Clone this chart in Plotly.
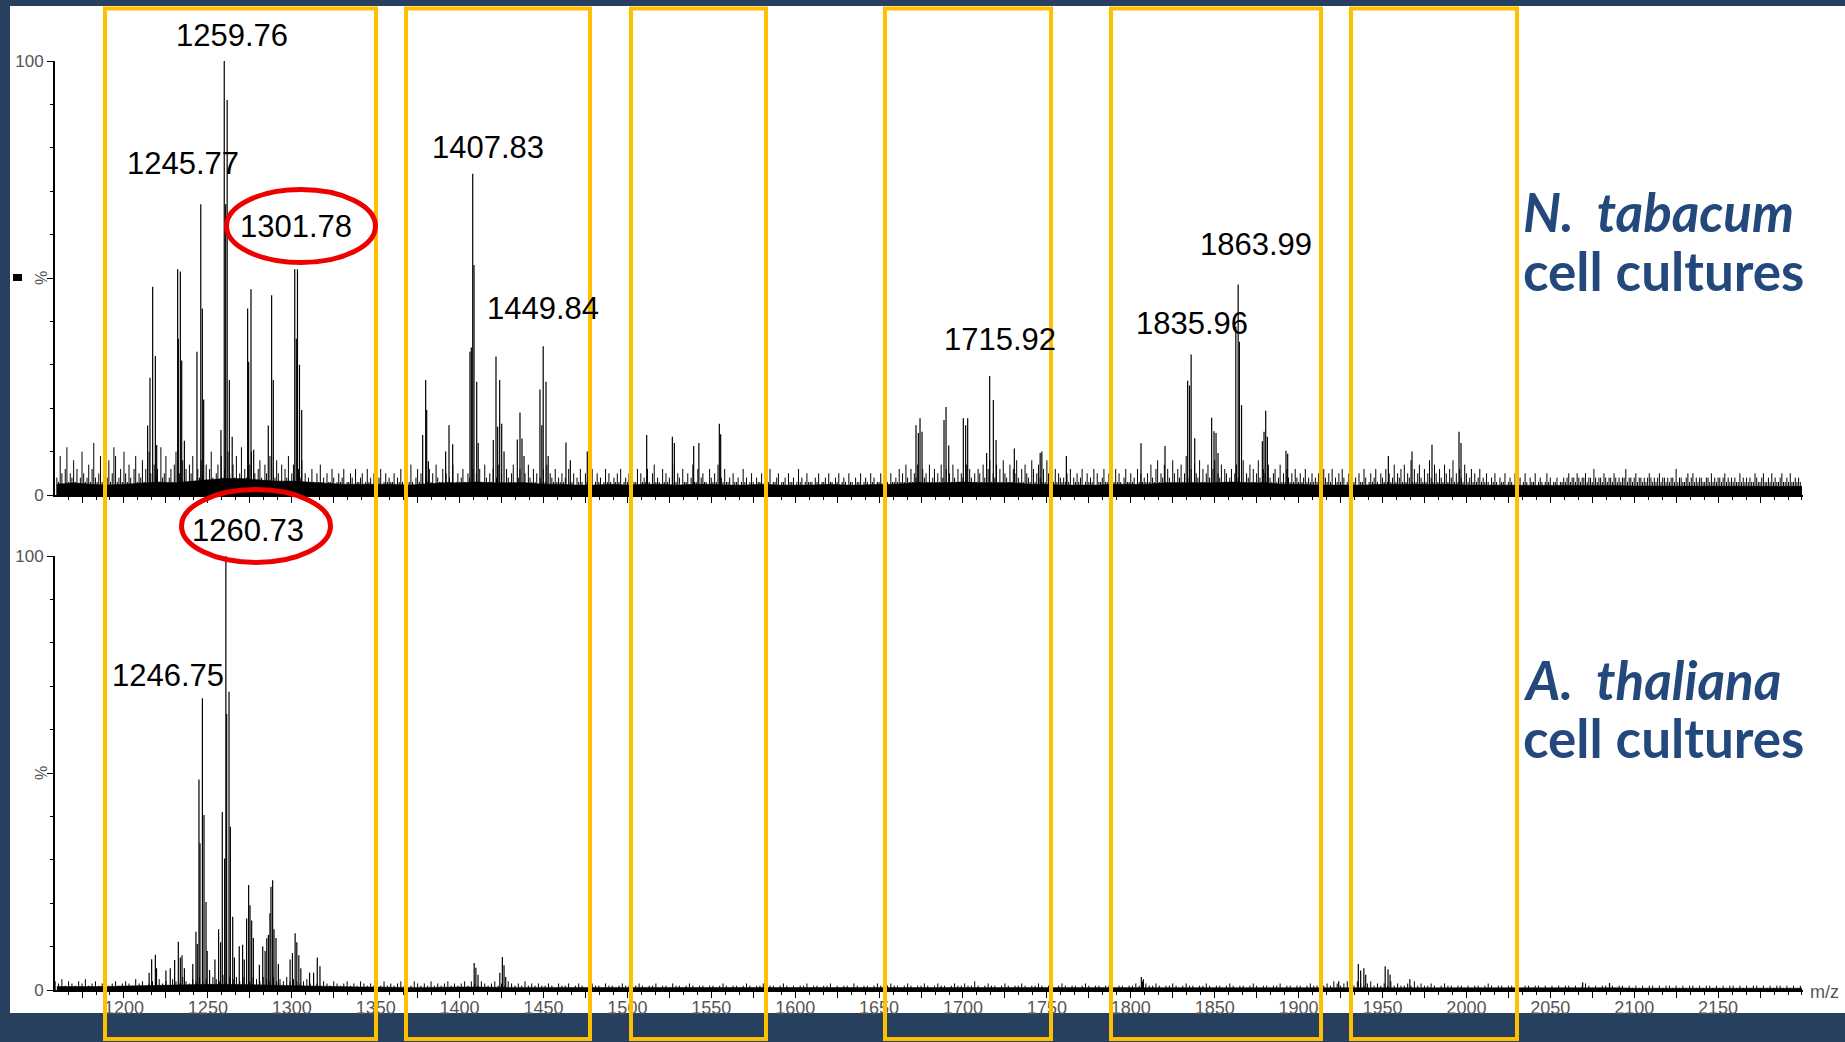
import plotly.graph_objects as go

W, H = 1845, 1042
NAVY = "#27405f"
YELLOW = "#FFC000"
RED = "#EE0000"
BLUE = "#23497c"
GRAY = "#555555"
TXT = "Liberation Sans, Arial, sans-serif"

# ---------------- data ----------------
tick_mz = list(range(1175, 2200, 25))
tick_text = [str(v) if v % 50 == 0 else "" for v in tick_mz]

# N. tabacum : main peaks (m/z, relative intensity %)
tab_peak_mz = [
    1214.1, 1215.5, 1217.1, 1218.7, 1219.5,
    1232.0, 1232.4, 1233.6, 1234.4, 1236.0,
    1243.5, 1245.77, 1246.7, 1247.5,
    1257.8, 1259.76, 1260.6, 1261.5, 1262.8, 1264.5,
    1273.7, 1274.3, 1275.7, 1277.3,
    1286.0, 1288.0, 1289.0,
    1301.78, 1302.7, 1303.4, 1304.6, 1305.9,
    1378.0, 1379.8, 1380.4, 1381.4,
    1391.7, 1393.7, 1395.9,
    1406.2, 1407.0, 1407.83, 1408.6, 1410.2, 1411.1,
    1420.1, 1421.7, 1422.7, 1423.9, 1425.1, 1426.5,
    1434.4, 1436.0, 1437.2, 1438.4,
    1447.9, 1449.0, 1449.84, 1451.5, 1452.8,
    1463.4, 1466.0, 1476.1,
    1511.5, 1526.8, 1528.0, 1539.5, 1542.6, 1554.8, 1555.6,
    1672.0, 1673.4, 1674.4, 1675.6,
    1688.7, 1689.9, 1691.5,
    1700.2, 1701.6, 1702.8,
    1714.1, 1715.92, 1718.1, 1719.7,
    1730.6, 1746.0, 1747.0, 1761.6,
    1806.1, 1820.4,
    1833.9, 1835.0, 1835.96, 1838.1,
    1848.2, 1849.6, 1850.8, 1852.0,
    1862.6, 1863.99, 1864.7, 1866.0,
    1878.4, 1879.4, 1880.4, 1881.4, 1892.5, 1893.5,
    1953.5, 1967.6, 1979.5, 1995.6, 1996.8,
]
tab_peak_int = [
    16, 27, 48, 32, 11.5,
    52, 36, 51.5, 31, 12.5,
    33, 67, 43, 22,
    15, 100, 67, 91, 26.5, 13.4,
    43, 30.7, 47.4, 10.4,
    16, 46, 26.5,
    52, 36, 52, 30, 19.6,
    13.8, 26.5, 19.6, 7.8,
    10, 16.1, 11.7,
    33, 34, 74, 53, 26.1, 12,
    12.7, 31.9, 15.7, 26.5, 16.4, 10,
    12.8, 19, 13, 9,
    24.3, 16.1, 34.3, 26.1, 9,
    12.1, 8, 10,
    13.8, 13.4, 12, 11.3, 12, 16.4, 14,
    16.1, 14.3, 17.7, 14.6,
    17.3, 20.3, 11.4,
    17.7, 16.1, 17.7,
    9.7, 27.4, 21.9, 12.7,
    10.7, 9.7, 10, 9,
    11.9, 11.3,
    26.3, 25.2, 32.4, 13.1,
    17.8, 14.7, 14.3, 9.7,
    38.8, 48.5, 35.3, 20.7,
    12.4, 14.6, 19.4, 13.4, 10.2, 9.5,
    9, 10, 11.6, 14.6, 12,
]

# A. thaliana : main peaks
tha_peak_mz = [
    1215.0, 1216.5, 1218.7, 1219.4, 1225.0, 1227.6,
    1230.2, 1232.4, 1233.6, 1234.6, 1236.0, 1241.0,
    1242.9, 1243.7, 1244.7, 1245.3, 1246.75, 1247.7, 1248.9, 1249.6, 1251.0,
    1254.2, 1256.4, 1257.6, 1258.6, 1260.0, 1260.73, 1261.2, 1262.6, 1263.4, 1264.8, 1265.8,
    1268.7, 1270.7, 1271.7, 1273.1, 1274.3, 1275.1, 1276.1, 1277.1, 1280.7,
    1282.7, 1284.1, 1285.1, 1286.1, 1287.0, 1287.6, 1288.6, 1289.4, 1290.6, 1292.0,
    1299.0, 1300.4, 1302.0, 1303.0, 1304.2, 1305.4,
    1310.6, 1313.0, 1315.2, 1316.8,
    1408.7, 1409.7, 1411.0, 1424.0, 1425.5, 1426.5, 1427.5,
    1806.3, 1807.5, 1923.9, 1935.6, 1937.0, 1938.9, 1940.0,
    1951.6, 1953.3, 1954.5, 1966.3, 2069.3, 2085.3,
]
tha_peak_int = [
    4, 7.1, 8.1, 5, 4.5, 5,
    6.9, 11.1, 7.5, 8, 5, 6,
    13.4, 10.6, 48.5, 33.8, 67.2, 40.3, 20.3, 9, 4.6,
    7, 14, 11, 41, 30.3, 100, 63.6, 68.7, 37.6, 16.9, 7.5,
    10.1, 10.4, 7, 16.5, 24.2, 19.5, 16, 12, 5.8,
    10, 9, 11.9, 12.7, 17.7, 23.8, 25.3, 14, 12, 6,
    7, 8.5, 13.1, 11, 8, 5,
    4, 4, 7.5, 5.5,
    6.2, 5.1, 3.5, 4, 7.6, 5.7, 3,
    3, 2.5, 2, 6, 4.5, 5, 3.5,
    5.5, 4.8, 3.5, 2.5, 1.8, 1.6,
]

# N. tabacum noise sticks, one every 1 m/z starting at 1160
tab_noise_start, tab_noise_step = 1160, 1
tab_noise = [
    4, 3, 9, 5, 2, 6, 11, 3, 5, 4, 8, 3, 6, 2, 4, 10, 5, 3, 4, 7, 3, 6, 12, 4, 3, 5, 9, 3, 7, 2, 4, 8, 3, 5, 11, 9, 3, 4, 6, 3, 10, 5, 3, 7, 4, 2, 6, 9, 3, 5,
    4, 8, 3, 6, 3, 10, 5, 2, 7, 4, 6, 3, 11, 4, 5, 9, 2, 4, 6, 3, 7, 10, 3, 5, 4, 8, 3, 6, 2, 7, 5, 9, 3, 3, 6, 4, 8, 5, 2, 7, 3, 6, 10, 4, 3, 5, 7, 3, 9, 4,
    6, 3, 10, 5, 3, 7, 4, 9, 2, 5, 11, 3, 6, 4, 3, 7, 10, 3, 5, 2, 6, 8, 4, 3, 7, 5, 3, 9, 6, 3, 4, 8, 5, 2, 7, 3, 6, 4, 9, 3, 5, 7, 3, 2, 6, 4, 8, 3, 5, 3,
    4, 3, 6, 3, 2, 5, 3, 7, 3, 4, 2, 5, 3, 3, 6, 4, 2, 3, 5, 3, 4, 6, 2, 3, 3, 5, 4, 2, 6, 3, 3, 4, 5, 2, 3, 6, 3, 4, 2, 5, 3, 3, 4, 6, 2, 3, 5, 3, 4, 3,
    3, 5, 2, 4, 3, 6, 3, 2, 5, 4, 3, 7, 3, 2, 4, 6, 3, 5, 3, 2, 4, 3, 6, 3, 5, 2, 7, 4, 3, 3, 6, 2, 5, 3, 4, 3, 7, 2, 3, 5, 3, 4, 6, 3, 2, 5, 4, 3, 6, 3,
    5, 3, 6, 3, 2, 7, 4, 3, 5, 3, 6, 2, 4, 7, 3, 5, 3, 2, 6, 4, 3, 5, 7, 3, 2, 4, 6, 3, 3, 5, 2, 7, 4, 3, 6, 3, 5, 2, 4, 3, 6, 3, 7, 2, 5, 4, 3, 6, 3, 4,
    3, 5, 3, 4, 2, 6, 3, 3, 5, 2, 4, 3, 6, 3, 2, 5, 3, 4, 3, 6, 2, 3, 5, 3, 4, 2, 3, 6, 3, 5, 3, 2, 4, 3, 5, 3, 6, 2, 3, 4, 3, 5, 2, 4, 3, 3, 6, 2, 5, 3,
    4, 3, 6, 3, 2, 5, 7, 3, 4, 3, 2, 6, 3, 5, 3, 4, 2, 7, 3, 3, 5, 4, 2, 6, 3, 3, 5, 2, 4, 7, 3, 3, 6, 2, 4, 5, 3, 3, 2, 6, 4, 3, 5, 3, 7, 2, 4, 3, 6, 3,
    3, 4, 2, 5, 3, 3, 4, 2, 3, 6, 3, 4, 2, 3, 5, 3, 2, 4, 3, 3, 5, 2, 3, 4, 3, 6, 2, 3, 3, 4, 5, 2, 3, 3, 4, 2, 5, 3, 3, 4, 2, 3, 6, 3, 4, 2, 3, 5, 3, 3,
    3, 2, 4, 3, 5, 2, 3, 3, 4, 2, 5, 3, 3, 2, 4, 3, 5, 2, 3, 4, 3, 2, 5, 3, 3, 2, 4, 3, 3, 5, 2, 3, 4, 3, 2, 5, 3, 4, 2, 3, 3, 5, 2, 3, 4, 3, 2, 5, 3, 3,
    4, 3, 6, 3, 5, 3, 7, 4, 3, 6, 3, 5, 4, 7, 3, 3, 6, 4, 5, 3, 7, 3, 4, 6, 3, 5, 3, 7, 4, 3, 6, 3, 5, 3, 7, 4, 3, 6, 3, 5, 4, 3, 7, 3, 6, 4, 3, 5, 3, 6,
    5, 3, 7, 4, 3, 6, 8, 3, 5, 4, 7, 3, 6, 3, 8, 5, 4, 3, 7, 3, 6, 5, 8, 4, 3, 6, 3, 7, 5, 4, 3, 8, 6, 3, 5, 7, 4, 3, 6, 3, 8, 5, 4, 7, 3, 6, 3, 5, 4, 3,
    4, 3, 5, 3, 6, 2, 4, 3, 5, 3, 4, 6, 2, 3, 5, 3, 4, 3, 6, 2, 5, 3, 3, 4, 6, 3, 3, 5, 2, 4, 3, 6, 3, 5, 3, 2, 4, 6, 3, 3, 5, 3, 4, 2, 6, 3, 5, 3, 4, 3,
    5, 3, 7, 4, 3, 6, 8, 3, 5, 4, 7, 3, 6, 4, 3, 8, 5, 3, 6, 4, 7, 3, 5, 9, 4, 3, 6, 3, 7, 5, 4, 8, 3, 6, 3, 5, 7, 4, 3, 6, 8, 3, 5, 4, 7, 3, 6, 5, 3, 4,
    6, 3, 5, 7, 4, 3, 6, 8, 3, 5, 4, 7, 3, 6, 3, 5, 8, 4, 3, 6, 5, 3, 7, 4, 3, 5, 6, 3, 4, 7, 3, 5, 3, 6, 4, 3, 5, 3, 6, 4, 3, 5, 3, 4, 6, 3, 4, 3, 5, 3,
    4, 3, 5, 3, 2, 6, 4, 3, 5, 3, 6, 2, 4, 3, 5, 3, 6, 4, 2, 3, 5, 3, 6, 3, 4, 2, 5, 3, 3, 6, 4, 2, 3, 5, 3, 4, 6, 3, 2, 5, 4, 3, 6, 3, 5, 3, 4, 7, 3, 5,
    4, 6, 3, 7, 3, 5, 4, 8, 3, 6, 3, 5, 7, 4, 3, 6, 3, 5, 8, 4, 3, 7, 5, 3, 6, 4, 3, 7, 5, 3, 6, 4, 8, 3, 5, 3, 6, 4, 3, 7, 5, 3, 4, 6, 3, 5, 3, 4, 6, 3,
    4, 3, 5, 3, 2, 4, 3, 5, 3, 2, 4, 3, 3, 5, 2, 3, 4, 3, 2, 5, 3, 3, 4, 2, 3, 5, 3, 2, 4, 3, 3, 5, 2, 3, 4, 3, 2, 3, 5, 3, 4, 2, 3, 3, 4, 2, 3, 3, 4, 3,
    4, 5, 3, 4, 4, 3, 5, 4, 3, 4, 4, 5, 3, 4, 4, 3, 6, 4, 3, 4, 4, 3, 5, 4, 3, 4, 4, 3, 5, 4, 3, 4, 3, 4, 4, 6, 3, 4, 4, 3, 4, 5, 3, 4, 4, 3, 4, 3, 4, 5,
    4, 3, 4, 3, 4, 5, 3, 4, 4, 3, 4, 3, 4, 4, 3, 6, 3, 4, 4, 3, 3, 4, 5, 3, 4, 5, 3, 4, 3, 4, 4, 3, 3, 4, 4, 3, 5, 3, 4, 3, 4, 4, 3, 4, 5, 3, 4, 3, 4, 3,
    4, 3, 3, 5, 3, 4, 3, 4, 3, 4, 3, 3, 5, 4, 3, 3, 4, 5, 3, 3, 4, 3, 5, 3, 4, 3, 3, 4, 5, 3, 3, 4, 3, 5, 3, 3, 4, 3, 4, 3,
]

# A. thaliana noise sticks, one every 2 m/z starting at 1159
tha_noise_start, tha_noise_step = 1159, 2
tha_noise = [
    2, 1.5, 2.5, 1, 2, 1.5, 1, 2, 1.5, 2.5, 1, 1.5, 2, 1, 1.5, 2, 1, 1.5, 2, 1, 1.5,
    2, 1.5, 1, 2.5, 1.5, 2, 1, 1.5, 2, 1, 2.5, 1.5, 2, 1, 2.5, 2, 1.5, 3, 2, 1.5, 2.5, 2, 3, 2, 2.5,
    2, 3, 2.5, 2, 3.5, 2, 3, 2.5, 3, 2, 3, 2.5, 2, 3, 2.5, 2, 3, 2.5, 2, 3, 2, 2.5, 2, 3, 2,
    2.5, 2, 1.5, 2, 2.5, 1.5, 2, 1.5, 1, 2, 1.5, 1, 2, 1.5, 1, 1.5, 2, 1, 1.5, 1, 2, 1.5, 1, 1.5, 1,
    1.5, 1, 2, 1, 1.5, 1, 1.5, 2, 1, 1.5, 1, 2, 1.5, 1, 1.5, 1, 2, 1, 1.5, 1, 1.5, 2, 1, 1.5, 1,
    1.5, 2, 1, 2, 1.5, 1, 2, 1.5, 1, 1.5, 2, 1, 1.5, 1, 2, 1.5, 1, 1.5, 1, 2, 1, 1.5, 1, 1.5, 1,
    1, 1.5, 1, 0.5, 1.5, 1, 1, 1.5, 0.5, 1, 1.5, 1, 0.5, 1, 1.5, 1, 1, 0.5, 1.5, 1, 1, 0.5, 1, 1.5, 1,
    1, 0.5, 1, 1.5, 1, 0.5, 1, 1, 1.5, 0.5, 1, 1, 0.5, 1.5, 1, 1, 0.5, 1, 1.5, 1, 0.5, 1, 1, 0.5, 1,
    1, 0.5, 1, 1.5, 1, 0.5, 1, 1, 0.5, 1, 1.5, 1, 0.5, 1, 1, 1.5, 0.5, 1, 1, 0.5, 1, 1.5, 1, 0.5, 1,
    0.5, 1, 1, 1.5, 0.5, 1, 1, 0.5, 1, 1, 1.5, 0.5, 1, 0.5, 1, 1, 0.5, 1.5, 1, 0.5, 1, 1, 0.5, 1, 1.5,
    1, 0.5, 1, 1.5, 1, 1, 0.5, 1, 1.5, 1, 0.5, 1, 1, 1.5, 1, 0.5, 1, 1.5, 1, 1, 0.5, 1, 1.5, 1, 1,
    1.5, 1, 1, 2, 1, 0.5, 1, 1.5, 1, 1, 0.5, 1, 1.5, 1, 0.5, 1, 1, 1.5, 1, 0.5, 1, 1, 1.5, 1, 0.5,
    1, 1, 0.5, 1, 1.5, 1, 0.5, 1, 1, 0.5, 1, 1.5, 1, 0.5, 1, 1, 0.5, 1, 1, 1.5, 0.5, 1, 1, 0.5, 1,
    1, 1.5, 1, 2, 1.5, 1, 1, 1.5, 1, 0.5, 1, 1, 1.5, 1, 0.5, 1, 1.5, 1, 1, 0.5, 1, 1, 1.5, 1, 0.5,
    1, 1, 0.5, 1, 1.5, 1, 0.5, 1, 1, 0.5, 1, 1.5, 1, 0.5, 1, 1, 0.5, 1, 1, 1.5, 0.5, 1, 1, 0.5, 1,
    1, 0.5, 1, 1.5, 1, 1, 0.5, 1, 1.5, 1, 2, 1.5, 1, 1.5, 2, 1.5, 1, 2, 1.5, 1, 1.5, 2, 1, 1.5, 1,
    1.5, 1, 2, 1, 1.5, 1, 1, 1.5, 1, 2, 1, 1.5, 1, 1, 1.5, 1, 0.5, 1, 1.5, 1, 1, 0.5, 1, 1, 0.5,
    1, 0.5, 1, 1, 0.5, 1, 1.5, 1, 0.5, 1, 1, 0.5, 1, 1, 0.5, 1, 0.5, 1, 1, 0.5, 1, 1, 0.5, 1, 0.5,
    1, 0.5, 1, 0.5, 1, 1, 0.5, 1, 0.5, 1, 1.5, 1, 0.5, 1, 0.5, 1, 1, 0.5, 1, 0.5, 1, 1, 0.5, 1, 0.5,
    1, 0.5, 1, 0.5, 1, 1, 0.5, 1, 0.5, 1, 1, 0.5, 1, 0.5, 1, 0.5, 1, 1, 0.5, 1, 0.5, 1, 1, 0.5, 1,
    0.5, 1, 0.5, 1, 1, 0.5, 1, 0.5, 1, 0.5, 1, 1, 0.5, 1, 0.5, 1, 0.5, 1, 1, 0.5, 1, 0.5, 1, 0.5, 1,
]

# dense baseline level, one value every 10 m/z starting at 1160
floor_start, floor_step = 1160, 10
tab_floor = [
    2.5, 2.8, 2.5, 2.3, 2.5, 2.8, 3, 2.8, 3.2, 3.5,
    3.8, 3.8, 3.5, 3.2, 3.2, 3, 2.8, 2.5, 2.5, 2.5,
    2.5, 2.3, 2.5, 2.8, 2.8, 3, 2.8, 2.8, 2.8, 2.5,
    2.5, 2.3, 2.3, 2.5, 2.3, 2.5, 2.5, 2.3, 2.5, 2.5,
    2.3, 2.3, 2.5, 2.3, 2.3, 2.3, 2.5, 2.3, 2.3, 2.5,
    2.5, 2.8, 2.8, 2.8, 3, 2.8, 2.8, 2.8, 2.5, 2.5,
    2.3, 2.3, 2.3, 2.5, 2.5, 2.5, 2.8, 2.8, 2.8, 2.8,
    3, 2.8, 2.8, 2.5, 2.5, 2.3, 2.3, 2.3, 2.3, 2.5,
    2.5, 2.5, 2.5, 2.5, 2.3, 2.3, 2.3, 2.3, 2.2, 2.2,
    2.2, 2.2, 2.2, 2.2, 2.1, 2.1, 2.1, 2, 2, 2,
    2, 2, 2, 2, 2,
]
tha_floor = [
    0.8, 0.8, 0.7, 0.8, 0.9, 1, 1.1, 1.2, 1.3, 1.3,
    1.3, 1.3, 1.2, 1.1, 1, 0.9, 0.8, 0.7, 0.7, 0.7,
    0.6, 0.6, 0.6, 0.7, 0.7, 0.7, 0.6, 0.6, 0.6, 0.6,
    0.6, 0.6, 0.5, 0.5, 0.5, 0.5, 0.5, 0.5, 0.5, 0.5,
    0.5, 0.5, 0.5, 0.5, 0.5, 0.5, 0.5, 0.5, 0.5, 0.5,
    0.5, 0.5, 0.5, 0.5, 0.5, 0.5, 0.5, 0.5, 0.5, 0.5,
    0.5, 0.5, 0.5, 0.5, 0.5, 0.5, 0.5, 0.5, 0.5, 0.5,
    0.5, 0.5, 0.5, 0.5, 0.5, 0.6, 0.6, 0.6, 0.6, 0.5,
    0.5, 0.5, 0.5, 0.5, 0.5, 0.5, 0.5, 0.5, 0.5, 0.5,
    0.5, 0.5, 0.5, 0.5, 0.4, 0.4, 0.4, 0.4, 0.4, 0.4,
    0.4, 0.4, 0.4, 0.4, 0.4,
]

tab_labels = ["1259.76", "1245.77", "1301.78", "1407.83", "1449.84",
              "1715.92", "1835.96", "1863.99"]
tha_labels = ["1260.73", "1246.75"]

# ---------------- layout helpers (pixel -> paper) ----------------
def px(x):
    return x / W


def py(y):
    return 1 - y / H


def sticks(mz, inten):
    xs, ys = [], []
    for m, h in zip(mz, inten):
        xs += [m, m, None]
        ys += [0, h, None]
    return xs, ys


noise_mz_tab = [tab_noise_start + tab_noise_step * i for i in range(len(tab_noise))]
noise_mz_tha = [tha_noise_start + tha_noise_step * i for i in range(len(tha_noise))]
floor_mz_tab = [floor_start + floor_step * i for i in range(len(tab_floor))]
floor_mz_tha = [floor_start + floor_step * i for i in range(len(tha_floor))]

fig = go.Figure()

for (fmz, fl, nmz, nz, pmz, pint, xa, ya) in [
    (floor_mz_tab, tab_floor, noise_mz_tab, tab_noise, tab_peak_mz, tab_peak_int, "x", "y"),
    (floor_mz_tha, tha_floor, noise_mz_tha, tha_noise, tha_peak_mz, tha_peak_int, "x2", "y2"),
]:
    fig.add_trace(go.Scatter(x=fmz, y=fl, mode="lines", fill="tozeroy",
                             fillcolor="black", line=dict(color="black", width=0.5),
                             xaxis=xa, yaxis=ya, hoverinfo="skip", showlegend=False))
    nx, ny = sticks(nmz, nz)
    fig.add_trace(go.Scatter(x=nx, y=ny, mode="lines",
                             line=dict(color="black", width=1),
                             xaxis=xa, yaxis=ya, hoverinfo="skip", showlegend=False))
    sx, sy = sticks(pmz, pint)
    fig.add_trace(go.Scatter(x=sx, y=sy, mode="lines",
                             line=dict(color="black", width=1.2),
                             xaxis=xa, yaxis=ya, hoverinfo="skip", showlegend=False))

X_RANGE = [1158.9, 2200.6]
xdom = [px(55), px(1803)]

common_x = dict(domain=xdom, range=X_RANGE, showline=True, linecolor="black",
                linewidth=2, ticks="outside", tickmode="array", tickvals=tick_mz,
                ticklen=6, tickwidth=1, tickcolor="black", showgrid=False,
                zeroline=False, fixedrange=True, automargin=False,
                minor=dict(tickmode="linear", tick0=1200, dtick=50 / 6, ticklen=3,
                           tickcolor="black", tickwidth=1, ticks="outside", showgrid=False))
common_y = dict(range=[0, 100], showline=True, linecolor="black", linewidth=2,
                ticks="outside", tickmode="array", tickvals=[0, 50, 100],
                ticktext=["0", "", "100"], ticklen=6, tickwidth=1, tickcolor="black",
                tickfont=dict(family=TXT, size=17, color=GRAY), showgrid=False,
                zeroline=False, fixedrange=True, automargin=False,
                minor=dict(tickmode="linear", tick0=0, dtick=10, ticklen=3,
                           tickcolor="black", tickwidth=1, ticks="outside", showgrid=False))

fig.update_layout(
    template="none",
    width=W, height=H, autosize=False,
    margin=dict(l=0, r=0, t=0, b=0, pad=0, autoexpand=False),
    paper_bgcolor=NAVY, plot_bgcolor="rgba(0,0,0,0)",
    font=dict(family=TXT, color=GRAY),
    showlegend=False,
    xaxis=dict(common_x, anchor="y", showticklabels=False),
    xaxis2=dict(common_x, anchor="y2", ticktext=tick_text, showticklabels=True,
                ticklabelstandoff=-6,
                tickfont=dict(family=TXT, size=18, color=GRAY)),
    yaxis=dict(common_y, domain=[py(495), py(61)], anchor="x"),
    yaxis2=dict(common_y, domain=[py(990), py(556)], anchor="x2"),
)

shapes = [
    dict(type="rect", xref="paper", yref="paper", x0=px(10), x1=1, y0=py(1013), y1=py(6),
         fillcolor="white", line=dict(width=0), layer="below"),
    dict(type="rect", xref="paper", yref="paper", x0=px(13), x1=px(22), y0=py(281), y1=py(274),
         fillcolor="black", line=dict(width=0), layer="above"),
]
for (l, r) in [(105, 376), (406, 590), (631, 766), (885, 1051), (1111, 1321), (1351, 1517)]:
    shapes.append(dict(type="rect", xref="paper", yref="paper", x0=px(l), x1=px(r),
                       y0=py(1039), y1=py(8.5), line=dict(color=YELLOW, width=4),
                       fillcolor="rgba(0,0,0,0)", layer="above"))
for (l, r, t, b) in [(226.5, 375.5, 189.5, 262.5), (181.5, 330.5, 489.5, 562.5)]:
    shapes.append(dict(type="circle", xref="paper", yref="paper", x0=px(l), x1=px(r),
                       y0=py(b), y1=py(t), line=dict(color=RED, width=5), layer="above"))
fig.update_layout(shapes=shapes)

label_pos = {
    "1259.76": (232, 35), "1245.77": (183, 163), "1301.78": (296, 226),
    "1407.83": (488, 148), "1449.84": (543, 308), "1715.92": (1000, 339),
    "1835.96": (1192, 323), "1863.99": (1256, 244),
    "1260.73": (248, 530), "1246.75": (168, 675),
}
ann = []
for lab in tab_labels + tha_labels:
    x, y = label_pos[lab]
    ann.append(dict(text=lab, x=px(x), y=py(y), xref="paper", yref="paper",
                    xanchor="center", yanchor="middle", showarrow=False,
                    font=dict(family=TXT, size=31, color="black")))

SP = "Comic Sans MS, Lato, sans-serif"
for (txt, y) in [("<b><i>N.\u00a0\u00a0tabacum</i></b>", 212), ("<b>cell cultures</b>", 270),
                 ("<b><i>A.\u00a0\u00a0thaliana</i></b>", 679), ("<b>cell cultures</b>", 737)]:
    ann.append(dict(text=txt, x=px(1521), y=py(y), xref="paper", yref="paper",
                    xanchor="left", yanchor="middle", showarrow=False,
                    font=dict(family=SP, size=53, color=BLUE)))

for y in (278, 773):
    ann.append(dict(text="%", x=px(41), y=py(y), xref="paper", yref="paper",
                    xanchor="center", yanchor="middle", showarrow=False, textangle=-90,
                    font=dict(family=TXT, size=16, color=GRAY)))
ann.append(dict(text="m/z", x=px(1824), y=py(992), xref="paper", yref="paper",
                xanchor="center", yanchor="middle", showarrow=False,
                font=dict(family=TXT, size=18, color=GRAY)))
fig.update_layout(annotations=ann)

PIN = ("var gd=document.getElementById('{plot_id}');"
       "gd.style.position='fixed';gd.style.top='0px';gd.style.left='0px';"
       "document.documentElement.style.margin='0';document.documentElement.style.padding='0';"
       "document.body.style.margin='0';document.body.style.padding='0';"
       "document.documentElement.style.overflow='hidden';document.body.style.overflow='hidden';")
fig.write_html("out.html", config={"displayModeBar": False}, post_script=PIN)
